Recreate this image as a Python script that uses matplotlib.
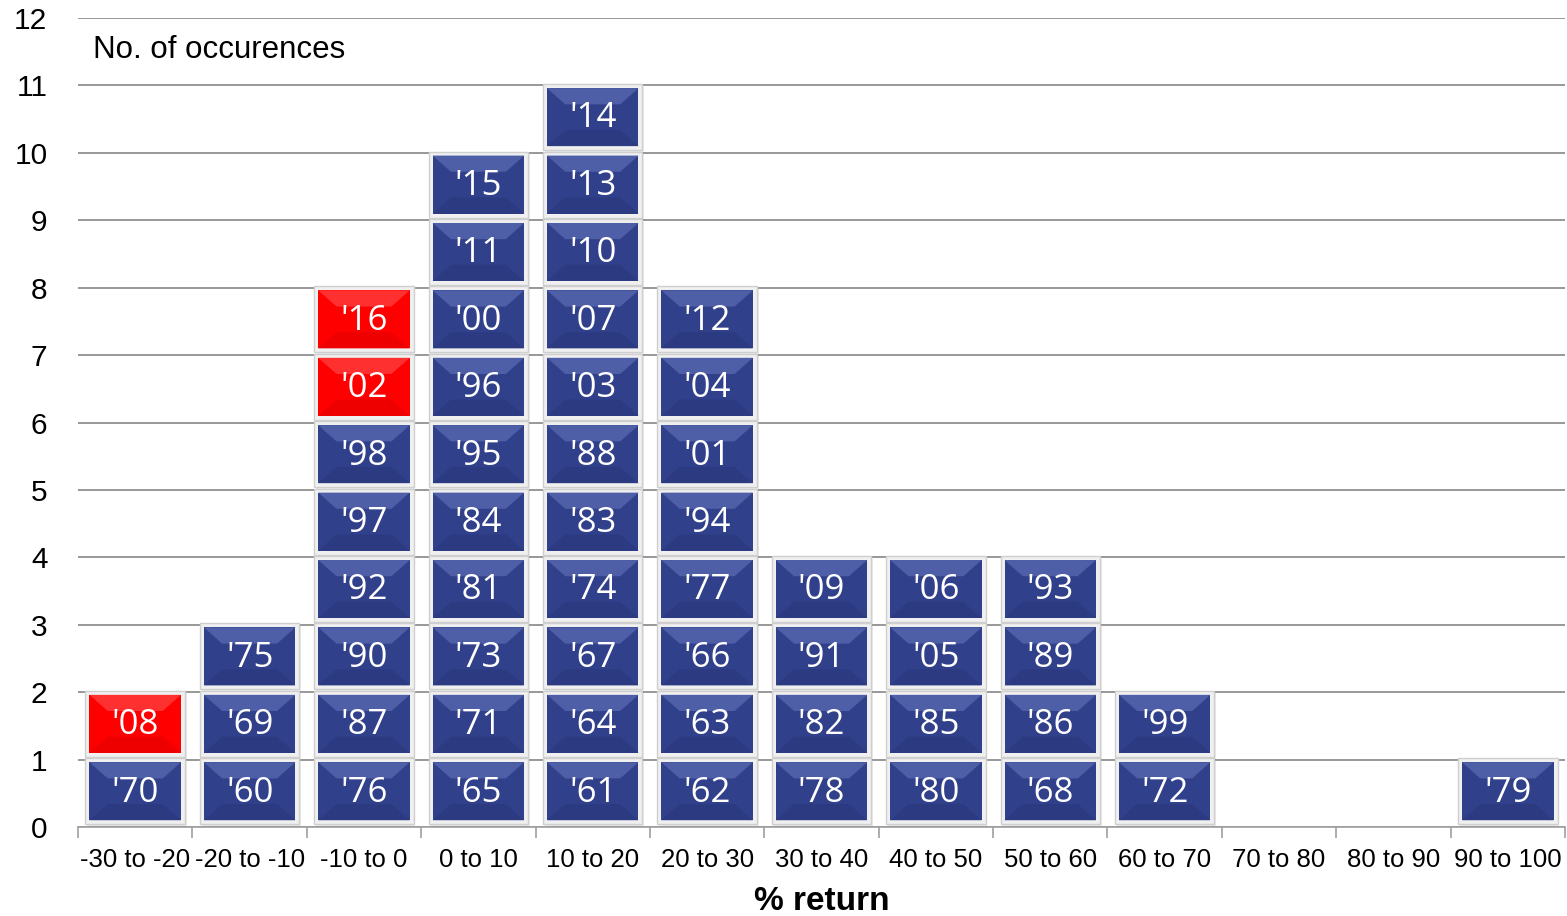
import numpy as np
import matplotlib.pyplot as plt
from matplotlib.patches import Polygon, Rectangle

# Data: return bins and the years that fell into each one (bottom to top)
bins = ["-30 to -20", "-20 to -10", "-10 to 0", "0 to 10", "10 to 20",
        "20 to 30", "30 to 40", "40 to 50", "50 to 60", "60 to 70",
        "70 to 80", "80 to 90", "90 to 100"]
years = [
    ["'70", "'08"],
    ["'60", "'69", "'75"],
    ["'76", "'87", "'90", "'92", "'97", "'98", "'02", "'16"],
    ["'65", "'71", "'73", "'81", "'84", "'95", "'96", "'00", "'11", "'15"],
    ["'61", "'64", "'67", "'74", "'83", "'88", "'03", "'07", "'10", "'13", "'14"],
    ["'62", "'63", "'66", "'77", "'94", "'01", "'04", "'12"],
    ["'78", "'82", "'91", "'09"],
    ["'80", "'85", "'05", "'06"],
    ["'68", "'86", "'89", "'93"],
    ["'72", "'99"],
    [],
    [],
    ["'79"],
]
red_years = ["'08", "'02", "'16"]
yticks = list(range(0, 13))

# box colours: (top, body, bottom)
blue = ("#4E5FA8", "#31408A", "#2C3A82")
red = ("#FF3030", "#FF0000", "#EE0000")

plt.rcParams['font.family'] = ['Liberation Sans', 'DejaVu Sans']

fig = plt.figure(figsize=(15.67, 9.16), dpi=100)
ax = fig.add_axes([0.0498, 0.0972, 0.9489, 0.8831])

hw = 0.40   # half width of a box
y0off, y1off = 0.10, 0.96
bx, by = 0.16, 0.24  # bevel size

for i, col in enumerate(years):
    for j, yr in enumerate(col):
        c = red if yr in red_years else blue
        xl, xr = i - hw, i + hw
        yb, yt = j + y0off, j + y1off
        # soft shadow and light frame
        ax.add_patch(Rectangle((xl - 0.02, yb - 0.11), 2 * hw + 0.07, yt - yb + 0.13,
                               facecolor="#000000", alpha=0.08, edgecolor="none", zorder=2))
        ax.add_patch(Rectangle((xl - 0.035, yb - 0.06), 2 * hw + 0.07, yt - yb + 0.12,
                               facecolor="#F0F0F0", edgecolor="#CFCFCF", lw=1, zorder=3))
        # body plus lighter top bevel and darker bottom bevel
        ax.add_patch(Rectangle((xl, yb), 2 * hw, yt - yb,
                               facecolor=c[1], edgecolor="none", zorder=4))
        ax.add_patch(Polygon([(xl, yt), (xr, yt), (xr - bx, yt - by), (xl + bx, yt - by)],
                             closed=True, facecolor=c[0], edgecolor="none", zorder=4))
        ax.add_patch(Polygon([(xl, yb), (xr, yb), (xr - bx, yb + by), (xl + bx, yb + by)],
                             closed=True, facecolor=c[2], edgecolor="none", zorder=4))
        ax.text(i, (yb + yt) / 2 - 0.02, yr, color="white", fontsize=25, ha="center", va="center",
                family=["Open Sans", "DejaVu Sans"], zorder=5)

ax.set_xlim(-0.5, len(bins) - 0.5)
ax.set_ylim(0, 12)

# category labels at centres, tick marks at the boundaries
ax.set_xticks(np.arange(-0.5, len(bins)), [""] * (len(bins) + 1))
ax.set_xticks(np.arange(len(bins)), bins, minor=True)
ax.tick_params(axis="x", which="major", length=8, color="#A0A0A0", width=1.2)
ax.tick_params(axis="x", which="minor", length=0, labelsize=18.5, pad=15)

ax.set_yticks(yticks)
ax.tick_params(axis="y", length=0, labelsize=21.5, pad=22)
ax.grid(axis="y", color="#909090", lw=1.3, zorder=1)
ax.set_axisbelow(True)

for s in ["top", "right", "left"]:
    ax.spines[s].set_visible(False)
ax.spines["bottom"].set_color("#A0A0A0")
ax.spines["bottom"].set_linewidth(1.2)

ax.text(0.01, 11.52, "No. of occurences", fontsize=22.5, va="center",
        transform=ax.get_yaxis_transform())
ax.set_xlabel("% return", fontsize=24, fontweight="bold", labelpad=10)

fig.savefig("out.png", dpi=100)
